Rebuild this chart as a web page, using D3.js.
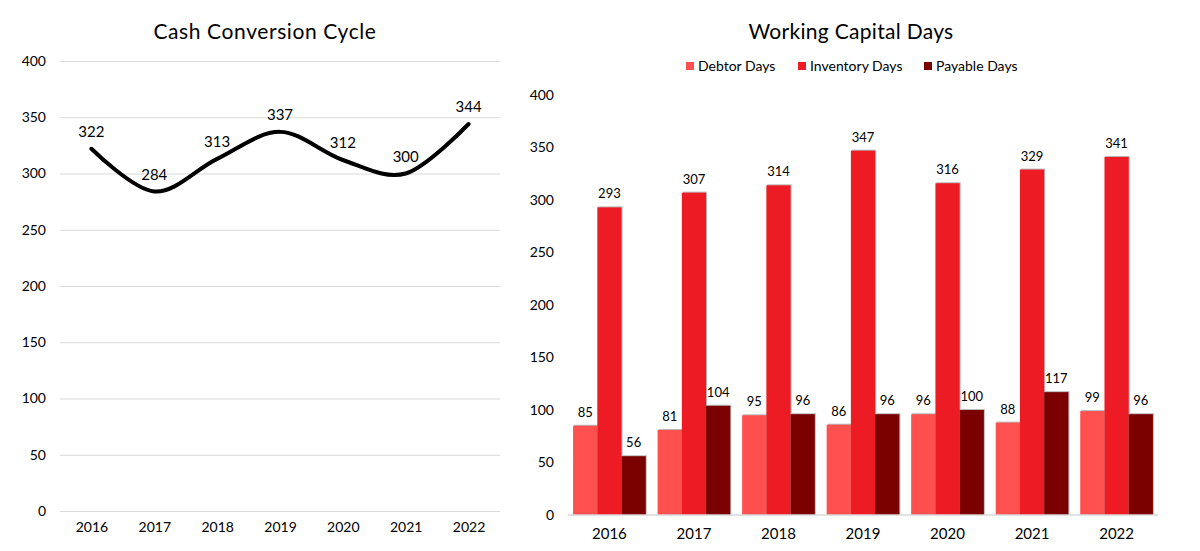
<!DOCTYPE html>
<html>
<head>
<meta charset="utf-8">
<script src="https://cdn.jsdelivr.net/npm/d3@7"></script>
<style>
  body { margin: 0; background: #fff; }
  svg { display: block; font-family: Lato, 'Open Sans', sans-serif; }
</style>
</head>
<body>
<svg id="chart" width="1200" height="551"></svg>
<script>
// data
const years = ['2016', '2017', '2018', '2019', '2020', '2021', '2022']
const cashCycle = [322, 284, 313, 337, 312, 300, 344]
const debtorDays = [85, 81, 95, 86, 96, 88, 99]
const inventoryDays = [293, 307, 314, 347, 316, 329, 341]
const payableDays = [56, 104, 96, 96, 100, 117, 96]
const seriesNames = ['Debtor Days', 'Inventory Days', 'Payable Days']
const yTicks = [0, 50, 100, 150, 200, 250, 300, 350, 400]

const colors = ['#ff5050', '#ed1c24', '#7b0000']
const svg = d3.select('#chart')

// ---- left: cash conversion cycle ----
const x1 = d3.scalePoint().domain(years).range([60, 500]).padding(0.5)
const y1 = d3.scaleLinear().domain([0, 400]).range([511, 61])

const left = svg.append('g')
left.append('text')
  .attr('x', 265).attr('y', 39)
  .attr('text-anchor', 'middle')
  .attr('font-size', 21)
  .attr('letter-spacing', 0.6)
  .text('Cash Conversion Cycle')

left.append('g')
  .attr('transform', 'translate(60,0)')
  .call(d3.axisLeft(y1).tickValues(yTicks).tickSize(-440).tickPadding(14))
  .call(g => g.select('.domain').remove())
  .call(g => g.selectAll('line').attr('stroke', '#d9d9d9'))
  .call(g => g.selectAll('text').attr('font-size', 14).attr('fill', '#000').attr('font-family', 'Lato'))

left.append('g')
  .attr('transform', 'translate(0,511)')
  .call(d3.axisBottom(x1).tickSize(0).tickPadding(11))
  .call(g => g.select('.domain').remove())
  .call(g => g.selectAll('text').attr('font-size', 14).attr('fill', '#000').attr('font-family', 'Lato'))

const line = d3.line()
  .x((d, i) => x1(years[i]))
  .y(d => y1(d))
  .curve(d3.curveCatmullRom.alpha(0))

left.append('path')
  .datum(cashCycle)
  .attr('d', line)
  .attr('fill', 'none')
  .attr('stroke', '#000')
  .attr('stroke-width', 4)
  .attr('stroke-linecap', 'round')

left.selectAll('.lbl')
  .data(cashCycle)
  .enter()
  .append('text')
  .attr('class', 'lbl')
  .attr('x', (d, i) => x1(years[i]))
  .attr('y', d => y1(d) - 12)
  .attr('text-anchor', 'middle')
  .attr('font-size', 15)
  .text(d => d)

// ---- right: working capital days ----
const x2 = d3.scaleBand().domain(years).range([568, 1158]).paddingInner(0.14).paddingOuter(0.06)
const xs = d3.scaleBand().domain(seriesNames).range([0, x2.bandwidth()])
const y2 = d3.scaleLinear().domain([0, 400]).range([515, 95])

const right = svg.append('g')
right.append('text')
  .attr('x', 851).attr('y', 39)
  .attr('text-anchor', 'middle')
  .attr('font-size', 21)
  .attr('letter-spacing', 0.3)
  .text('Working Capital Days')

// legend
const legendX = [686, 798, 924]
const legend = right.selectAll('.leg')
  .data(seriesNames)
  .enter()
  .append('g')
  .attr('class', 'leg')
  .attr('transform', (d, i) => `translate(${legendX[i]},62)`)
legend.append('rect')
  .attr('width', 8).attr('height', 8)
  .attr('fill', (d, i) => colors[i])
legend.append('text')
  .attr('x', 12).attr('y', 9)
  .attr('font-size', 14)
  .text(d => d)

right.append('g')
  .attr('transform', 'translate(568,0)')
  .call(d3.axisLeft(y2).tickValues(yTicks).tickSize(0).tickPadding(14))
  .call(g => g.select('.domain').remove())
  .call(g => g.selectAll('text').attr('font-size', 14).attr('fill', '#000').attr('font-family', 'Lato'))

const table = years.map((yr, i) => ({
  year: yr,
  values: [debtorDays[i], inventoryDays[i], payableDays[i]]
}))

const groups = right.selectAll('.grp')
  .data(table)
  .enter()
  .append('g')
  .attr('class', 'grp')
  .attr('transform', d => `translate(${x2(d.year)},0)`)

groups.selectAll('.shadow')
  .data(d => d.values)
  .enter()
  .append('rect')
  .attr('x', (d, i) => xs(seriesNames[i]) + 1)
  .attr('y', d => y2(d) - 1)
  .attr('width', xs.bandwidth())
  .attr('height', d => y2(0) - y2(d) + 1)
  .attr('fill', '#bbb')

groups.selectAll('.bar')
  .data(d => d.values)
  .enter()
  .append('rect')
  .attr('class', 'bar')
  .attr('x', (d, i) => xs(seriesNames[i]))
  .attr('y', d => y2(d))
  .attr('width', xs.bandwidth())
  .attr('height', d => y2(0) - y2(d))
  .attr('fill', (d, i) => colors[i])

groups.selectAll('.val')
  .data(d => d.values)
  .enter()
  .append('text')
  .attr('x', (d, i) => xs(seriesNames[i]) + xs.bandwidth() / 2)
  .attr('y', d => y2(d) - 9)
  .attr('text-anchor', 'middle')
  .attr('font-size', 13)
  .text(d => d)

right.append('line')
  .attr('x1', 568).attr('x2', 1158)
  .attr('y1', y2(0)).attr('y2', y2(0))
  .attr('stroke', '#d9d9d9')
  .attr('stroke-width', 1.5)

right.append('g')
  .attr('transform', 'translate(0,515)')
  .call(d3.axisBottom(x2).tickSize(0).tickPadding(13))
  .call(g => g.select('.domain').remove())
  .call(g => g.selectAll('text').attr('font-size', 15).attr('fill', '#000').attr('font-family', 'Lato'))
</script>
</body>
</html>
